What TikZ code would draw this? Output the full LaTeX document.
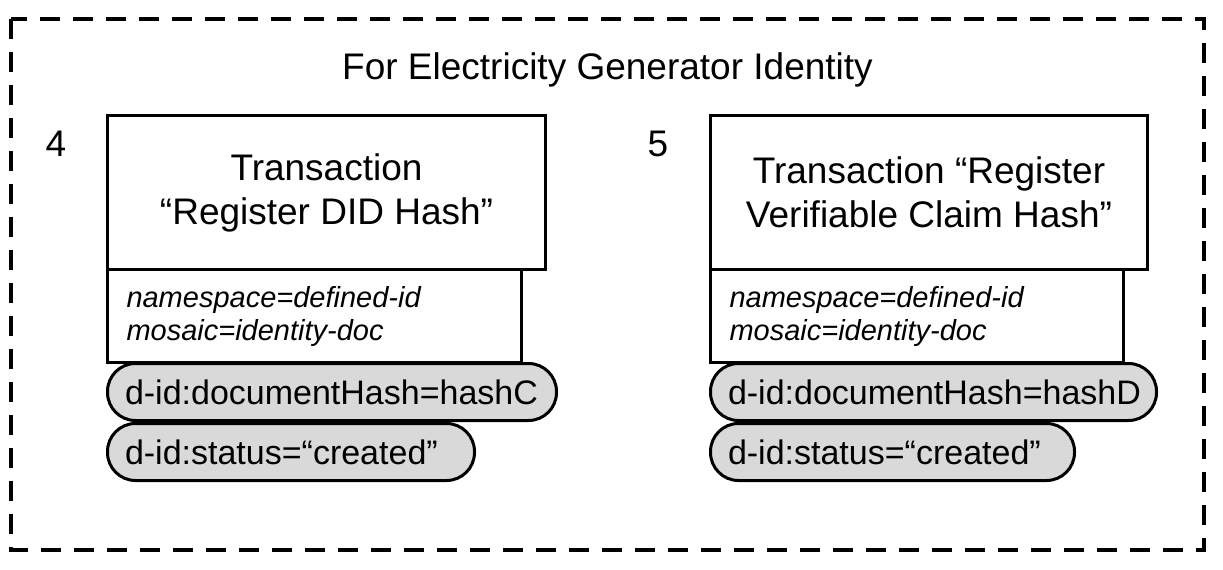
\documentclass[tikz,border=0pt]{standalone}
\usepackage{fontspec}
\setmainfont{Liberation Sans}
\begin{document}
\begin{tikzpicture}[x=1pt,y=-1pt,
  frame/.style={draw, line width=4pt, dash pattern=on 20pt off 13pt},
  titlebox/.style={draw, line width=3pt, anchor=north west, minimum height=154pt, align=center,
     font=\fontsize{37}{44}\selectfont, inner sep=0pt},
  attrbox/.style={draw, line width=3pt, anchor=north west, minimum height=93pt, align=left,
     font=\fontsize{29}{33}\selectfont\itshape, inner xsep=19pt, inner ysep=0pt},
  pill/.style={draw, line width=3pt, fill=black!15, anchor=north west, rounded corners=28pt,
     minimum height=57pt, align=left, font=\fontsize{34}{40}\selectfont, inner xsep=17pt, inner ysep=0pt},
  lbl/.style={font=\fontsize{37}{44}\selectfont, anchor=base, inner sep=0pt}
]
\useasboundingbox (0,0) rectangle (1223,570);
\draw[frame] (11,19) rectangle (1204,550);
\node[lbl] (title) at (607.5,79) {For Electricity Generator Identity};
\node[lbl] (n4) at (56,156) {4};
\node[lbl] (n5) at (658,156) {5};
% left
\node[titlebox, minimum width=438pt] (t4) at (106,114) {Transaction\\“Register DID Hash”};
\node[attrbox, minimum width=414pt, text width=376pt] (a4) at (106,268) {namespace=defined-id\\mosaic=identity-doc};
\node[pill, minimum width=449pt, text width=414pt] (h4) at (106,362) {\mbox{d-id:documentHash=hashC}};
\node[pill, minimum width=367pt, text width=332pt] (s4) at (106,422) {\mbox{d-id:status=“created”}};
% right
\node[titlebox, minimum width=437pt] (t5) at (709,114) {Transaction “Register\\Verifiable Claim Hash”};
\node[attrbox, minimum width=413pt, text width=375pt] (a5) at (709,268) {namespace=defined-id\\mosaic=identity-doc};
\node[pill, minimum width=446pt, text width=411pt] (h5) at (709,362) {\mbox{d-id:documentHash=hashD}};
\node[pill, minimum width=364pt, text width=329pt] (s5) at (709,422) {\mbox{d-id:status=“created”}};
\end{tikzpicture}
\end{document}
